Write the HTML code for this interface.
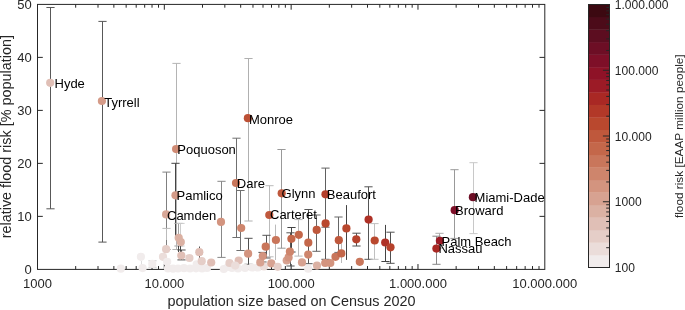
<!DOCTYPE html>
<html><head><meta charset="utf-8"><title>chart</title>
<style>html,body{margin:0;padding:0;background:#fff}body{width:685px;height:310px;overflow:hidden}</style></head>
<body>
<svg width="685" height="310" viewBox="0 0 685 310" style="display:block;will-change:transform;font-family:'Liberation Sans',sans-serif">
<rect width="685" height="310" fill="#fff"/>
<rect x="37.5" y="4.4" width="507.3" height="265.0" fill="none" stroke="#262626" stroke-width="1"/>
<path d="M75.68 269.35v-3.3M75.68 4.40v3.3M98.01 269.35v-3.3M98.01 4.40v3.3M113.86 269.35v-3.3M113.86 4.40v3.3M126.15 269.35v-3.3M126.15 4.40v3.3M136.19 269.35v-3.3M136.19 4.40v3.3M144.68 269.35v-3.3M144.68 4.40v3.3M152.03 269.35v-3.3M152.03 4.40v3.3M158.52 269.35v-3.3M158.52 4.40v3.3M164.32 269.35v-5.3M164.32 4.40v5.3M202.50 269.35v-3.3M202.50 4.40v3.3M224.84 269.35v-3.3M224.84 4.40v3.3M240.68 269.35v-3.3M240.68 4.40v3.3M252.97 269.35v-3.3M252.97 4.40v3.3M263.01 269.35v-3.3M263.01 4.40v3.3M271.50 269.35v-3.3M271.50 4.40v3.3M278.86 269.35v-3.3M278.86 4.40v3.3M285.35 269.35v-3.3M285.35 4.40v3.3M291.15 269.35v-5.3M291.15 4.40v5.3M329.33 269.35v-3.3M329.33 4.40v3.3M351.66 269.35v-3.3M351.66 4.40v3.3M367.51 269.35v-3.3M367.51 4.40v3.3M379.80 269.35v-3.3M379.80 4.40v3.3M389.84 269.35v-3.3M389.84 4.40v3.3M398.33 269.35v-3.3M398.33 4.40v3.3M405.68 269.35v-3.3M405.68 4.40v3.3M412.17 269.35v-3.3M412.17 4.40v3.3M417.97 269.35v-5.3M417.97 4.40v5.3M456.15 269.35v-3.3M456.15 4.40v3.3M478.49 269.35v-3.3M478.49 4.40v3.3M494.33 269.35v-3.3M494.33 4.40v3.3M506.62 269.35v-3.3M506.62 4.40v3.3M516.66 269.35v-3.3M516.66 4.40v3.3M525.15 269.35v-3.3M525.15 4.40v3.3M532.51 269.35v-3.3M532.51 4.40v3.3M539.00 269.35v-3.3M539.00 4.40v3.3M37.50 216.36h5.3M544.80 216.36h-5.3M37.50 163.37h5.3M544.80 163.37h-5.3M37.50 110.38h5.3M544.80 110.38h-5.3M37.50 57.39h5.3M544.80 57.39h-5.3" stroke="#262626" stroke-width="1" fill="none"/>
<path d="M50.50 7.50V208.80M46.40 7.50H54.60M46.40 208.80H54.60" stroke="#585858" stroke-width="1" fill="none"/>
<path d="M102.50 21.40V242.10M98.40 21.40H106.60M98.40 242.10H106.60" stroke="#585858" stroke-width="1" fill="none"/>
<path d="M176.50 63.40V249.50M172.40 63.40H180.60M172.40 249.50H180.60" stroke="#b4b4b4" stroke-width="1" fill="none"/>
<path d="M248.50 58.50V221.00M244.40 58.50H252.60M244.40 221.00H252.60" stroke="#b0b0b0" stroke-width="1" fill="none"/>
<path d="M166.50 172.10V249.50M162.40 172.10H170.60M162.40 249.50H170.60" stroke="#808080" stroke-width="1" fill="none"/>
<path d="M175.50 163.30V238.00M171.40 163.30H179.60" stroke="#444444" stroke-width="1" fill="none"/>
<path d="M236.50 138.20V237.50M232.40 138.20H240.60M232.40 237.50H240.60" stroke="#707070" stroke-width="1" fill="none"/>
<path d="M281.50 149.50V248.20M277.40 149.50H285.60M277.40 248.20H285.60" stroke="#999999" stroke-width="1" fill="none"/>
<path d="M221.50 181.30V257.40M217.40 181.30H225.60M217.40 257.40H225.60" stroke="#888888" stroke-width="1" fill="none"/>
<path d="M240.50 190.50V250.50M236.40 190.50H244.60M236.40 250.50H244.60" stroke="#707070" stroke-width="1" fill="none"/>
<path d="M248.50 238.30V264.30M244.40 238.30H252.60M244.40 264.30H252.60" stroke="#505050" stroke-width="1" fill="none"/>
<path d="M269.50 185.70V256.80M265.40 185.70H273.60M265.40 256.80H273.60" stroke="#bbbbbb" stroke-width="1" fill="none"/>
<path d="M266.50 235.30V258.00M262.40 235.30H270.60M262.40 258.00H270.60" stroke="#555555" stroke-width="1" fill="none"/>
<path d="M262.50 252.40V262.00M258.40 252.40H266.60M258.40 262.00H266.60" stroke="#555555" stroke-width="1" fill="none"/>
<path d="M275.50 224.60V260.00" stroke="#bbbbbb" stroke-width="1" fill="none"/>
<path d="M291.50 227.50V252.00M287.40 227.50H295.60M287.40 252.00H295.60" stroke="#444444" stroke-width="1" fill="none"/>
<path d="M290.50 232.80V266.00M286.40 232.80H294.60M286.40 266.00H294.60" stroke="#555555" stroke-width="1" fill="none"/>
<path d="M298.50 219.60V256.10M294.40 219.60H302.60M294.40 256.10H302.60" stroke="#bbbbbb" stroke-width="1" fill="none"/>
<path d="M308.50 209.50V263.70M304.40 209.50H312.60M304.40 263.70H312.60" stroke="#555555" stroke-width="1" fill="none"/>
<path d="M316.50 215.00V251.30M312.40 215.00H320.60M312.40 251.30H320.60" stroke="#666666" stroke-width="1" fill="none"/>
<path d="M325.50 168.10V227.20M321.40 168.10H329.60M321.40 227.20H329.60" stroke="#606060" stroke-width="1" fill="none"/>
<path d="M325.50 227.00V259.30M321.40 259.30H329.60" stroke="#555555" stroke-width="1" fill="none"/>
<path d="M338.50 217.00V252.40M334.40 217.00H342.60M334.40 252.40H342.60" stroke="#666666" stroke-width="1" fill="none"/>
<path d="M341.50 243.50V263.00" stroke="#bbbbbb" stroke-width="1" fill="none"/>
<path d="M346.50 205.10V259.90" stroke="#444444" stroke-width="1" fill="none"/>
<path d="M356.50 233.20V246.00M352.40 233.20H360.60M352.40 246.00H360.60" stroke="#505050" stroke-width="1" fill="none"/>
<path d="M368.50 186.80V259.30M364.40 186.80H372.60M364.40 259.30H372.60" stroke="#555555" stroke-width="1" fill="none"/>
<path d="M374.50 223.60V259.30M370.40 223.60H378.60M370.40 259.30H378.60" stroke="#c0c0c0" stroke-width="1" fill="none"/>
<path d="M385.50 224.90V261.50M381.40 261.50H389.60" stroke="#444444" stroke-width="1" fill="none"/>
<path d="M390.50 232.20V263.30M386.40 232.20H394.60M386.40 263.30H394.60" stroke="#505050" stroke-width="1" fill="none"/>
<path d="M439.50 233.30V248.00M435.40 233.30H443.60M435.40 248.00H443.60" stroke="#aaaaaa" stroke-width="1" fill="none"/>
<path d="M436.50 236.20V264.30M432.40 236.20H440.60M432.40 264.30H440.60" stroke="#888888" stroke-width="1" fill="none"/>
<path d="M454.50 169.70V238.40M450.40 169.70H458.60M450.40 238.40H458.60" stroke="#999999" stroke-width="1" fill="none"/>
<path d="M473.50 162.70V233.60M469.40 162.70H477.60M469.40 233.60H477.60" stroke="#c8c8c8" stroke-width="1" fill="none"/>
<path d="M152.50 260.80V267.20M148.40 260.80H156.60M148.40 267.20H156.60" stroke="#cccccc" stroke-width="1" fill="none"/>
<path d="M141.50 261.00V265.00" stroke="#dddddd" stroke-width="1" fill="none"/>
<path d="M199.50 246.50V258.00" stroke="#555555" stroke-width="1" fill="none"/>
<path d="M178.50 223.40V246.00M174.40 223.40H182.60M174.40 246.00H182.60" stroke="#a0a0a0" stroke-width="1" fill="none"/>
<path d="M180.50 223.40V246.00M176.40 223.40H184.60M176.40 246.00H184.60" stroke="#cccccc" stroke-width="1" fill="none"/>
<path d="M178.50 246.00V252.00" stroke="#444444" stroke-width="1" fill="none"/>
<path d="M180.50 246.00V252.00" stroke="#444444" stroke-width="1" fill="none"/>
<path d="M181.50 250.00V259.90M177.40 250.00H185.60M177.40 259.90H185.60" stroke="#505050" stroke-width="1" fill="none"/>
<path d="M166.50 228.40V240.00M162.40 228.40H170.60" stroke="#bbbbbb" stroke-width="1" fill="none"/>
<circle cx="120.80" cy="268.70" r="4.10" fill="#f1ecec"/>
<circle cx="140.90" cy="256.80" r="4.10" fill="#f1ecec"/>
<circle cx="142.60" cy="268.10" r="4.10" fill="#f1ecec"/>
<circle cx="152.30" cy="263.90" r="4.10" fill="#f1ecec"/>
<circle cx="173.00" cy="268.70" r="4.10" fill="#f1ecec"/>
<circle cx="168.00" cy="268.50" r="4.10" fill="#f1ecec"/>
<circle cx="178.00" cy="268.50" r="4.10" fill="#f1ecec"/>
<circle cx="184.00" cy="268.20" r="4.10" fill="#f1ecec"/>
<circle cx="190.00" cy="268.50" r="4.10" fill="#f1ecec"/>
<circle cx="196.00" cy="268.30" r="4.10" fill="#f1ecec"/>
<circle cx="202.00" cy="268.50" r="4.10" fill="#f1ecec"/>
<circle cx="207.00" cy="268.00" r="4.10" fill="#f1ecec"/>
<circle cx="196.70" cy="264.30" r="4.10" fill="#f1ecec"/>
<circle cx="223.80" cy="269.00" r="4.10" fill="#f1ecec"/>
<circle cx="232.00" cy="268.00" r="4.10" fill="#f1ecec"/>
<circle cx="238.00" cy="268.50" r="4.10" fill="#f1ecec"/>
<circle cx="245.00" cy="268.00" r="4.10" fill="#f1ecec"/>
<circle cx="252.00" cy="267.50" r="4.10" fill="#f1ecec"/>
<circle cx="258.00" cy="267.50" r="4.10" fill="#f1ecec"/>
<circle cx="228.00" cy="267.00" r="4.10" fill="#f1ecec"/>
<circle cx="308.20" cy="268.70" r="4.10" fill="#f1ecec"/>
<circle cx="163.00" cy="256.80" r="4.10" fill="#ebddda"/>
<circle cx="167.20" cy="261.80" r="4.10" fill="#f1ecec"/>
<circle cx="166.10" cy="249.20" r="4.10" fill="#e5cec8"/>
<circle cx="181.30" cy="255.50" r="4.10" fill="#e0bfb6"/>
<circle cx="189.40" cy="258.00" r="4.10" fill="#e5cec8"/>
<circle cx="199.30" cy="252.20" r="4.10" fill="#e0bfb6"/>
<circle cx="201.70" cy="261.20" r="4.10" fill="#e5cec8"/>
<circle cx="211.20" cy="262.50" r="4.10" fill="#e0bfb6"/>
<circle cx="229.50" cy="263.00" r="4.10" fill="#e5cec8"/>
<circle cx="238.70" cy="260.50" r="4.10" fill="#e0bfb6"/>
<circle cx="235.20" cy="265.60" r="4.10" fill="#ebddda"/>
<circle cx="178.70" cy="237.80" r="4.10" fill="#dbb1a3"/>
<circle cx="180.80" cy="242.10" r="4.10" fill="#dbb1a3"/>
<circle cx="221.00" cy="221.90" r="4.10" fill="#d3947f"/>
<circle cx="241.20" cy="228.00" r="4.10" fill="#ce856c"/>
<circle cx="248.10" cy="253.70" r="4.10" fill="#d3947f"/>
<circle cx="264.00" cy="266.50" r="4.10" fill="#ebddda"/>
<circle cx="260.30" cy="262.40" r="4.10" fill="#d7a291"/>
<circle cx="262.80" cy="256.10" r="4.10" fill="#d3947f"/>
<circle cx="265.70" cy="246.70" r="4.10" fill="#c9765b"/>
<circle cx="271.30" cy="263.40" r="4.10" fill="#d7a291"/>
<circle cx="277.70" cy="266.80" r="4.10" fill="#e5cec8"/>
<circle cx="275.90" cy="240.00" r="4.10" fill="#c9765b"/>
<circle cx="286.70" cy="260.50" r="4.10" fill="#d7a291"/>
<circle cx="288.60" cy="257.40" r="4.10" fill="#d3947f"/>
<circle cx="289.90" cy="251.70" r="4.10" fill="#ce856c"/>
<circle cx="291.40" cy="238.80" r="4.10" fill="#c4674a"/>
<circle cx="298.80" cy="234.80" r="4.10" fill="#c4674a"/>
<circle cx="302.00" cy="262.40" r="4.10" fill="#d7a291"/>
<circle cx="308.30" cy="242.70" r="4.10" fill="#c4674a"/>
<circle cx="308.20" cy="254.60" r="4.10" fill="#ce856c"/>
<circle cx="317.00" cy="265.60" r="4.10" fill="#dbb1a3"/>
<circle cx="316.70" cy="229.90" r="4.10" fill="#bf583c"/>
<circle cx="325.20" cy="263.00" r="4.10" fill="#d3947f"/>
<circle cx="330.30" cy="263.00" r="4.10" fill="#d3947f"/>
<circle cx="325.60" cy="223.40" r="4.10" fill="#b9482e"/>
<circle cx="335.50" cy="256.80" r="4.10" fill="#c9765b"/>
<circle cx="341.30" cy="253.40" r="4.10" fill="#c4674a"/>
<circle cx="338.80" cy="240.20" r="4.10" fill="#bf583c"/>
<circle cx="346.40" cy="228.40" r="4.10" fill="#b9482e"/>
<circle cx="356.30" cy="239.30" r="4.10" fill="#b6422c"/>
<circle cx="359.80" cy="261.80" r="4.10" fill="#c9765b"/>
<circle cx="368.60" cy="219.60" r="4.10" fill="#af3126"/>
<circle cx="374.70" cy="240.50" r="4.10" fill="#b9482e"/>
<circle cx="385.20" cy="242.50" r="4.10" fill="#af3126"/>
<circle cx="390.50" cy="247.30" r="4.10" fill="#b6422c"/>
<circle cx="50.20" cy="82.80" r="4.10" fill="#e0bfb6"/>
<circle cx="101.90" cy="101.00" r="4.10" fill="#d59b88"/>
<circle cx="176.10" cy="149.10" r="4.10" fill="#d08b74"/>
<circle cx="247.90" cy="118.20" r="4.10" fill="#bc5035"/>
<circle cx="175.50" cy="195.30" r="4.10" fill="#d59b88"/>
<circle cx="166.10" cy="214.40" r="4.10" fill="#d8a797"/>
<circle cx="236.00" cy="183.00" r="4.10" fill="#c9765b"/>
<circle cx="281.70" cy="193.30" r="4.10" fill="#bf583c"/>
<circle cx="269.30" cy="215.00" r="4.10" fill="#bf583c"/>
<circle cx="325.50" cy="194.30" r="4.10" fill="#b53f2b"/>
<circle cx="472.90" cy="197.20" r="4.10" fill="#6d0e25"/>
<circle cx="454.70" cy="210.20" r="4.10" fill="#7e0f28"/>
<circle cx="436.40" cy="248.60" r="4.10" fill="#a92824"/>
<circle cx="439.90" cy="240.80" r="4.10" fill="#9c1b26"/>
<text x="54.50" y="87.90" font-size="13" fill="#000">Hyde</text>
<text x="104.20" y="106.50" font-size="13" fill="#000">Tyrrell</text>
<text x="177.30" y="153.90" font-size="13" fill="#000">Poquoson</text>
<text x="248.90" y="123.60" font-size="13" fill="#000">Monroe</text>
<text x="176.50" y="200.20" font-size="13" fill="#000">Pamlico</text>
<text x="167.00" y="219.60" font-size="13" fill="#000">Camden</text>
<text x="236.80" y="187.60" font-size="13" fill="#000">Dare</text>
<text x="281.60" y="198.10" font-size="13" fill="#000">Glynn</text>
<text x="270.00" y="219.40" font-size="13" fill="#000">Carteret</text>
<text x="326.80" y="199.30" font-size="13" fill="#000">Beaufort</text>
<text x="474.60" y="202.00" font-size="13" fill="#000">Miami-Dade</text>
<text x="455.00" y="215.20" font-size="13" fill="#000">Broward</text>
<text x="441.50" y="245.90" font-size="13" fill="#000">Palm Beach</text>
<text x="438.40" y="253.40" font-size="13" fill="#000">Nassau</text>
<text x="37.50" y="287.70" font-size="13.0" fill="#262626" text-anchor="middle">1000</text>
<text x="164.32" y="287.70" font-size="13.0" fill="#262626" text-anchor="middle">10.000</text>
<text x="291.15" y="287.70" font-size="13.0" fill="#262626" text-anchor="middle">100.000</text>
<text x="417.97" y="287.70" font-size="13.0" fill="#262626" text-anchor="middle">1.000.000</text>
<text x="544.80" y="287.70" font-size="13.0" fill="#262626" text-anchor="middle">10.000.000</text>
<text x="31.70" y="274.05" font-size="13.0" fill="#262626" text-anchor="end">0</text>
<text x="31.70" y="221.06" font-size="13.0" fill="#262626" text-anchor="end">10</text>
<text x="31.70" y="168.07" font-size="13.0" fill="#262626" text-anchor="end">20</text>
<text x="31.70" y="115.08" font-size="13.0" fill="#262626" text-anchor="end">30</text>
<text x="31.70" y="62.09" font-size="13.0" fill="#262626" text-anchor="end">40</text>
<text x="31.70" y="9.10" font-size="13.0" fill="#262626" text-anchor="end">50</text>
<text x="291.4" y="306" font-size="14.4" fill="#262626" text-anchor="middle">population size based on Census 2020</text>
<text transform="translate(10.7,136.7) rotate(-90)" font-size="14.4" fill="#262626" text-anchor="middle">relative flood risk [% population]</text>
<rect x="588.50" y="254.98" width="21.00" height="12.82" fill="#f1ecec"/>
<rect x="588.50" y="242.45" width="21.00" height="12.82" fill="#ebddda"/>
<rect x="588.50" y="229.93" width="21.00" height="12.82" fill="#e5cec8"/>
<rect x="588.50" y="217.40" width="21.00" height="12.82" fill="#e0bfb6"/>
<rect x="588.50" y="204.88" width="21.00" height="12.82" fill="#dbb1a3"/>
<rect x="588.50" y="192.36" width="21.00" height="12.82" fill="#d7a291"/>
<rect x="588.50" y="179.83" width="21.00" height="12.82" fill="#d3947f"/>
<rect x="588.50" y="167.31" width="21.00" height="12.82" fill="#ce856c"/>
<rect x="588.50" y="154.79" width="21.00" height="12.82" fill="#c9765b"/>
<rect x="588.50" y="142.26" width="21.00" height="12.82" fill="#c4674a"/>
<rect x="588.50" y="129.74" width="21.00" height="12.82" fill="#bf583c"/>
<rect x="588.50" y="117.21" width="21.00" height="12.82" fill="#b9482e"/>
<rect x="588.50" y="104.69" width="21.00" height="12.82" fill="#b23828"/>
<rect x="588.50" y="92.17" width="21.00" height="12.82" fill="#a92824"/>
<rect x="588.50" y="79.64" width="21.00" height="12.82" fill="#9c1b26"/>
<rect x="588.50" y="67.12" width="21.00" height="12.82" fill="#8e1227"/>
<rect x="588.50" y="54.60" width="21.00" height="12.82" fill="#7e0f28"/>
<rect x="588.50" y="42.07" width="21.00" height="12.82" fill="#6d0e25"/>
<rect x="588.50" y="29.55" width="21.00" height="12.82" fill="#5c0d20"/>
<rect x="588.50" y="17.02" width="21.00" height="12.82" fill="#4c0b19"/>
<rect x="588.50" y="4.50" width="21.00" height="12.82" fill="#3c0911"/>
<rect x="588.5" y="4.5" width="21.0" height="263.0" fill="none" stroke="#262626" stroke-width="1"/>
<path d="M609.50 247.71h-3.3M609.50 236.13h-3.3M609.50 227.91h-3.3M609.50 221.54h-3.3M609.50 216.34h-3.3M609.50 211.93h-3.3M609.50 208.12h-3.3M609.50 204.76h-3.3M609.50 201.75h-6.6M609.50 181.96h-3.3M609.50 170.38h-3.3M609.50 162.16h-3.3M609.50 155.79h-3.3M609.50 150.59h-3.3M609.50 146.18h-3.3M609.50 142.37h-3.3M609.50 139.01h-3.3M609.50 136.00h-6.6M609.50 116.21h-3.3M609.50 104.63h-3.3M609.50 96.41h-3.3M609.50 90.04h-3.3M609.50 84.84h-3.3M609.50 80.43h-3.3M609.50 76.62h-3.3M609.50 73.26h-3.3M609.50 70.25h-6.6M609.50 50.46h-3.3M609.50 38.88h-3.3M609.50 30.66h-3.3M609.50 24.29h-3.3M609.50 19.09h-3.3M609.50 14.68h-3.3M609.50 10.87h-3.3M609.50 7.51h-3.3" stroke="#262626" stroke-width="1" fill="none"/>
<text x="614.80" y="272.20" font-size="12.05" fill="#262626">100</text>
<text x="614.80" y="206.45" font-size="12.05" fill="#262626">1000</text>
<text x="614.80" y="140.70" font-size="12.05" fill="#262626">10.000</text>
<text x="614.80" y="74.95" font-size="12.05" fill="#262626">100.000</text>
<text x="614.80" y="9.20" font-size="12.05" fill="#262626">1.000.000</text>
<text transform="translate(683.2,136.2) rotate(-90)" font-size="11.8" fill="#262626" text-anchor="middle">flood risk [EAAP million people]</text>
</svg>
</body></html>
